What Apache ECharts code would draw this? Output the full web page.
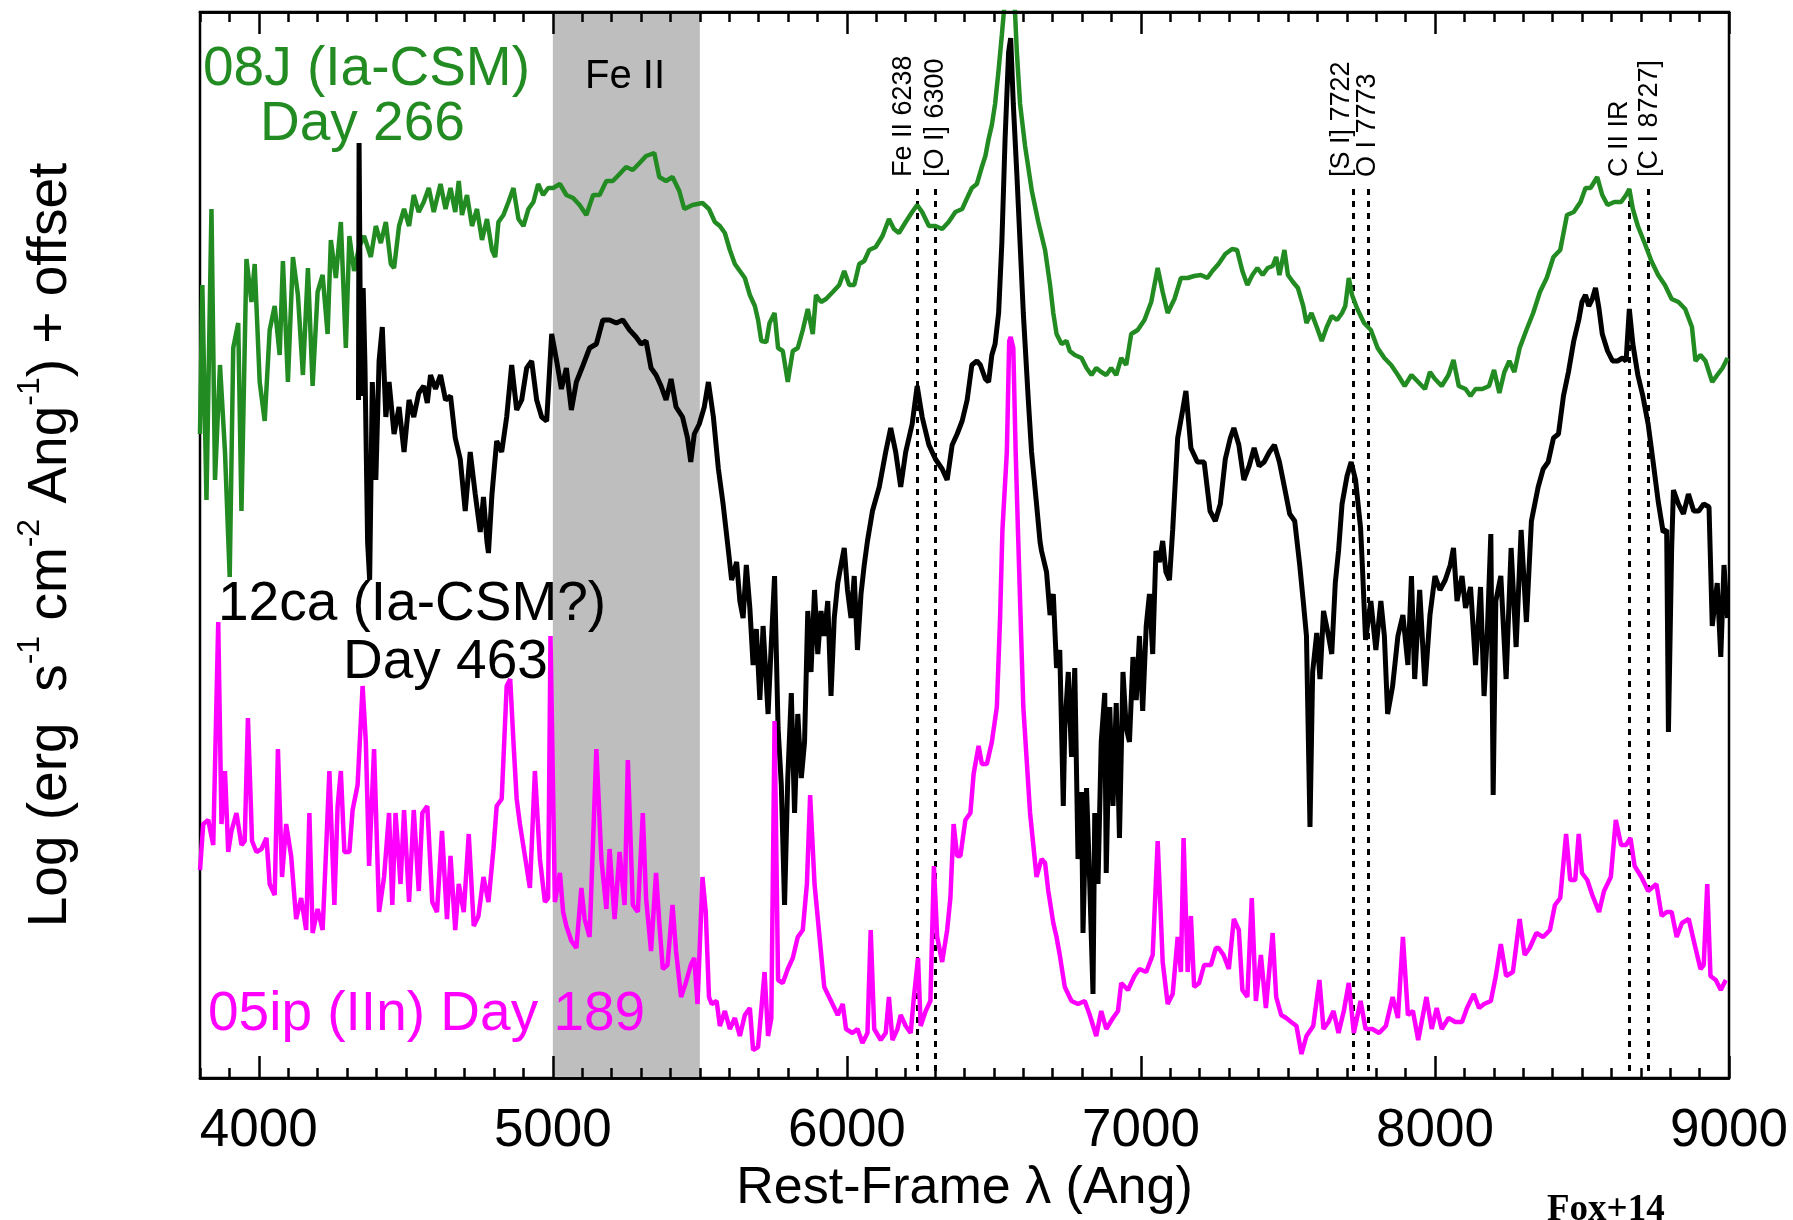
<!DOCTYPE html>
<html>
<head>
<meta charset="utf-8">
<title>Late-time spectra: 08J, 12ca, 05ip</title>
<script src="https://cdn.jsdelivr.net/npm/echarts@6/dist/echarts.min.js"></script>
<style>
  html, body { margin: 0; padding: 0; background: #fff; }
  #chart { width: 1793px; height: 1220px; }
</style>
</head>
<body>
<div id="chart"></div>
<script>
// Rest-frame wavelength (Angstrom) and log flux + offset (arbitrary units)
const sn2008J = [
  [3800,6.44],[3808,7.93],[3822,5.78],[3839,8.69],[3851,5.98],[3868,7.13],[3885,6.26],[3901,5.01],[3913,7.30],[3930,7.55],
  [3941,5.67],[3958,8.19],[3975,7.76],[3986,8.14],[4003,6.96],[4020,6.57],[4037,7.48],[4054,7.72],[4071,7.23],[4082,8.17],
  [4099,6.96],[4116,8.21],[4133,7.83],[4150,7.03],[4167,8.10],[4183,6.92],[4200,7.86],[4217,8.03],[4234,7.44],[4245,8.38],
  [4262,8.00],[4279,8.56],[4296,7.30],[4308,8.42],[4324,8.07],[4341,8.31],[4358,8.42],[4381,8.21],[4398,8.52],[4415,8.35],
  [4432,8.56],[4449,8.14],[4460,8.10],[4477,8.52],[4494,8.69],[4511,8.52],[4527,8.83],[4544,8.66],[4561,8.76],[4578,8.90],
  [4595,8.66],[4618,8.94],[4635,8.69],[4652,8.90],[4668,8.66],[4680,8.97],[4691,8.63],[4708,8.83],[4725,8.52],[4742,8.69],
  [4759,8.38],[4776,8.59],[4793,8.28],[4804,8.21],[4815,8.56],[4832,8.63],[4849,8.76],[4866,8.90],[4883,8.59],[4900,8.52],
  [4917,8.69],[4934,8.76],[4950,8.94],[4967,8.83],[4984,8.90],[5001,8.90],[5024,8.94],[5046,8.83],[5069,8.80],[5091,8.73],
  [5114,8.63],[5137,8.83],[5159,8.83],[5182,8.97],[5204,8.97],[5227,9.04],[5249,9.11],[5272,9.08],[5295,9.15],[5317,9.22],
  [5345,9.25],[5362,9.01],[5385,8.97],[5407,9.01],[5430,8.87],[5447,8.69],[5475,8.73],[5509,8.75],[5531,8.69],[5551,8.56],
  [5568,8.52],[5585,8.45],[5602,8.28],[5619,8.14],[5636,8.07],[5653,8.00],[5670,7.83],[5687,7.72],[5698,7.58],[5709,7.37],
  [5726,7.36],[5737,7.55],[5754,7.65],[5766,7.30],[5782,7.27],[5799,6.96],[5816,7.27],[5833,7.30],[5850,7.48],[5867,7.69],
  [5884,7.44],[5895,7.83],[5912,7.76],[5929,7.79],[5952,7.86],[5974,7.93],[5991,8.07],[6008,7.93],[6025,7.93],[6042,8.14],
  [6059,8.17],[6076,8.28],[6098,8.31],[6121,8.42],[6143,8.59],[6160,8.49],[6177,8.45],[6200,8.56],[6222,8.66],[6239,8.73],
  [6256,8.66],[6279,8.52],[6301,8.52],[6324,8.49],[6346,8.56],[6369,8.66],[6392,8.69],[6409,8.80],[6425,8.90],[6442,8.94],
  [6459,9.11],[6471,9.22],[6482,9.39],[6493,9.53],[6504,9.74],[6516,10.08],[6527,10.43],[6538,10.80],[6552,11.50],[6562,11.50],
  [6568,10.90],[6578,10.26],[6589,9.74],[6606,9.32],[6629,8.87],[6651,8.56],[6674,8.28],[6691,7.93],[6702,7.65],[6713,7.44],
  [6730,7.34],[6747,7.37],[6758,7.27],[6775,7.23],[6798,7.20],[6815,7.10],[6832,7.03],[6848,7.10],[6865,7.06],[6882,7.03],
  [6899,7.10],[6916,7.03],[6933,7.20],[6950,7.13],[6967,7.44],[6989,7.48],[7012,7.58],[7035,7.76],[7057,8.10],[7074,7.86],
  [7091,7.65],[7114,7.79],[7136,8.00],[7159,8.00],[7181,8.02],[7204,8.03],[7226,8.00],[7243,8.07],[7264,8.14],[7287,8.24],
  [7310,8.29],[7327,8.28],[7345,8.07],[7362,7.93],[7379,8.03],[7396,8.10],[7414,8.03],[7431,8.10],[7448,8.12],[7460,8.21],
  [7471,8.03],[7488,8.28],[7500,8.03],[7517,7.96],[7534,7.90],[7552,7.72],[7563,7.55],[7580,7.65],[7598,7.51],[7615,7.37],
  [7632,7.51],[7649,7.62],[7667,7.58],[7684,7.65],[7695,7.72],[7707,8.00],[7718,7.83],[7736,7.69],[7759,7.55],[7782,7.48],
  [7805,7.30],[7828,7.20],[7851,7.13],[7874,7.03],[7897,6.92],[7920,7.03],[7943,6.96],[7966,6.89],[7983,7.06],[8000,6.99],
  [8023,6.92],[8046,7.03],[8063,7.18],[8081,6.92],[8104,6.89],[8121,6.82],[8138,6.89],[8161,6.89],[8184,6.92],[8201,7.08],
  [8219,6.85],[8236,7.06],[8253,7.17],[8270,7.06],[8288,7.30],[8311,7.48],[8334,7.65],[8357,7.86],[8380,8.00],[8403,8.21],
  [8426,8.28],[8449,8.63],[8472,8.66],[8495,8.76],[8512,8.90],[8529,8.90],[8552,9.01],[8569,8.83],[8587,8.73],[8610,8.76],
  [8633,8.76],[8650,8.83],[8661,8.89],[8673,8.69],[8690,8.52],[8713,8.35],[8736,8.17],[8759,8.03],[8782,7.93],[8805,7.79],
  [8828,7.76],[8851,7.69],[8874,7.51],[8886,7.17],[8903,7.23],[8920,7.17],[8943,6.96],[8960,7.03],[8978,7.10],[8995,7.20]
];

const sn2012ca = [
  [4339,6.78],[4341,9.35],[4347,6.82],[4355,7.90],[4361,7.13],[4370,5.36],[4377,4.98],[4386,6.96],[4398,5.98],[4409,7.17],
  [4420,7.51],[4432,6.61],[4443,6.96],[4460,6.44],[4477,6.71],[4494,6.26],[4511,6.78],[4527,6.61],[4544,6.85],[4561,6.92],
  [4573,6.75],[4584,7.03],[4601,6.89],[4618,7.03],[4635,6.78],[4652,6.82],[4668,6.40],[4685,6.19],[4702,5.67],[4719,6.26],
  [4736,5.84],[4753,5.46],[4764,5.81],[4776,5.36],[4781,5.25],[4793,5.84],[4809,6.37],[4826,6.26],[4843,6.61],[4860,7.13],
  [4877,6.68],[4894,6.78],[4911,7.10],[4928,7.17],[4945,6.78],[4962,6.61],[4979,6.57],[4996,7.44],[5013,7.17],[5029,6.89],
  [5046,7.10],[5063,6.68],[5080,6.96],[5103,7.13],[5125,7.30],[5148,7.34],[5170,7.58],[5193,7.58],[5216,7.55],[5238,7.58],
  [5261,7.48],[5283,7.41],[5300,7.34],[5317,7.37],[5334,7.10],[5351,7.03],[5368,6.92],[5385,6.78],[5402,6.99],[5419,6.71],
  [5441,6.61],[5458,6.40],[5469,6.16],[5481,6.44],[5498,6.54],[5515,6.71],[5529,6.96],[5546,6.61],[5563,6.09],[5579,5.74],
  [5596,5.30],[5608,4.98],[5625,5.16],[5636,4.77],[5647,4.60],[5658,5.13],[5670,4.70],[5681,4.13],[5692,4.49],[5704,3.78],
  [5715,4.52],[5732,3.64],[5743,4.35],[5754,5.02],[5766,3.50],[5777,2.93],[5788,1.73],[5799,3.00],[5811,3.85],[5822,2.65],
  [5833,3.64],[5845,3.00],[5856,3.36],[5867,4.67],[5878,4.06],[5890,4.88],[5901,4.24],[5912,4.67],[5923,4.42],[5935,4.77],
  [5946,3.82],[5957,4.60],[5969,4.95],[5980,5.13],[5991,5.30],[6002,4.88],[6014,4.60],[6025,5.02],[6036,4.28],[6048,4.84],
  [6059,5.13],[6070,5.37],[6087,5.67],[6110,5.91],[6132,6.26],[6149,6.50],[6166,6.26],[6183,5.91],[6200,6.26],[6222,6.54],
  [6239,6.92],[6256,6.61],[6279,6.33],[6301,6.19],[6324,6.09],[6341,5.98],[6358,6.33],[6375,6.44],[6392,6.57],[6409,6.78],
  [6425,7.13],[6442,7.17],[6454,7.13],[6471,6.99],[6482,6.96],[6493,7.23],[6504,7.34],[6516,7.65],[6527,8.35],[6538,9.39],
  [6550,10.26],[6557,10.40],[6566,9.74],[6578,9.04],[6589,8.35],[6600,7.65],[6617,6.78],[6628,6.26],[6645,5.74],[6657,5.36],
  [6662,5.27],[6679,5.06],[6691,4.63],[6702,4.84],[6713,4.10],[6724,4.28],[6736,2.72],[6741,3.50],[6753,4.06],[6764,3.21],
  [6775,4.10],[6786,2.19],[6798,2.86],[6803,1.45],[6815,2.90],[6826,1.94],[6837,0.84],[6843,2.65],[6854,1.94],[6865,3.36],
  [6877,3.85],[6882,2.05],[6894,3.71],[6905,2.72],[6916,3.75],[6927,2.40],[6939,4.06],[6950,3.50],[6961,3.36],[6973,4.21],
  [6984,3.78],[6995,4.42],[7006,3.67],[7018,4.52],[7029,4.84],[7040,4.24],[7051,5.27],[7063,5.16],[7074,5.37],[7085,5.06],
  [7097,4.98],[7108,5.48],[7125,6.40],[7142,6.68],[7153,6.87],[7170,6.30],[7192,6.16],[7215,6.16],[7235,5.67],[7253,5.57],
  [7270,5.74],[7287,6.19],[7304,6.40],[7316,6.50],[7333,6.33],[7350,5.98],[7368,6.12],[7385,6.30],[7402,6.12],[7419,6.16],
  [7437,6.26],[7454,6.33],[7471,6.16],[7488,5.91],[7506,5.64],[7523,5.57],[7540,5.13],[7552,4.77],[7563,4.42],[7575,2.51],
  [7584,4.06],[7598,4.45],[7609,3.99],[7621,4.67],[7638,4.42],[7649,4.24],[7661,4.95],[7672,5.27],[7684,5.74],[7701,6.02],
  [7715,6.16],[7730,5.98],[7747,5.50],[7753,5.13],[7764,4.38],[7782,4.77],[7799,4.28],[7816,4.77],[7828,4.42],[7839,3.64],
  [7856,3.92],[7874,4.42],[7891,4.63],[7908,4.13],[7920,5.02],[7931,3.99],[7948,4.88],[7966,3.92],[7983,4.63],[8000,5.02],
  [8017,4.88],[8035,4.98],[8052,5.13],[8063,5.30],[8075,4.77],[8092,5.02],[8104,4.70],[8121,4.91],[8138,4.13],[8155,4.91],
  [8167,3.82],[8178,4.45],[8190,5.44],[8198,2.83],[8207,4.77],[8224,5.02],[8242,3.99],[8259,5.30],[8276,4.31],[8293,5.48],
  [8311,4.56],[8328,5.57],[8351,5.91],[8368,6.09],[8385,6.16],[8403,6.40],[8420,6.44],[8437,6.82],[8454,7.06],[8472,7.37],
  [8489,7.58],[8500,7.76],[8512,7.83],[8523,7.72],[8535,7.79],[8546,7.90],[8558,7.69],[8569,7.44],[8587,7.27],[8604,7.17],
  [8621,7.17],[8638,7.20],[8650,7.17],[8661,7.69],[8673,7.34],[8690,7.03],[8707,6.82],[8725,6.54],[8742,6.16],[8759,5.77],
  [8776,5.46],[8788,5.48],[8794,3.46],[8805,5.30],[8811,5.88],[8828,5.74],[8845,5.64],[8862,5.84],[8880,5.67],[8897,5.67],
  [8914,5.74],[8932,5.71],[8943,4.52],[8960,4.95],[8972,4.21],[8983,5.13],[8995,4.60]
];

const sn2005ip = [
  [3800,2.08],[3811,2.54],[3828,2.58],[3845,2.33],[3862,4.56],[3873,2.54],[3885,3.07],[3896,2.26],[3907,2.47],[3924,2.65],
  [3941,2.33],[3952,2.37],[3963,3.60],[3977,2.37],[3992,2.26],[4009,2.29],[4026,2.40],[4037,1.94],[4054,1.83],[4065,3.29],
  [4079,2.01],[4093,2.54],[4110,2.22],[4127,1.59],[4144,1.80],[4161,1.48],[4172,2.65],[4183,1.45],[4200,1.69],[4217,1.48],
  [4229,2.29],[4240,3.07],[4257,1.73],[4268,2.72],[4279,3.07],[4291,2.26],[4308,2.26],[4319,2.68],[4336,2.93],[4353,3.92],
  [4364,3.36],[4375,2.12],[4392,3.29],[4409,1.66],[4426,2.01],[4443,2.65],[4454,1.73],[4465,2.65],[4482,1.94],[4494,2.68],
  [4511,1.76],[4527,2.68],[4544,1.87],[4556,2.65],[4573,2.72],[4590,1.76],[4606,1.66],[4623,2.47],[4640,1.59],[4652,2.22],
  [4668,1.48],[4680,1.94],[4697,1.66],[4714,2.44],[4731,1.52],[4747,1.62],[4764,2.01],[4781,1.76],[4798,2.29],[4809,2.72],
  [4826,2.79],[4843,3.92],[4855,3.99],[4866,3.36],[4877,2.79],[4888,2.54],[4905,2.22],[4922,1.90],[4939,3.07],[4956,2.19],
  [4973,1.76],[4984,1.80],[4992,4.42],[5007,1.76],[5024,2.05],[5035,1.66],[5046,1.52],[5063,1.37],[5080,1.30],[5097,1.90],
  [5108,1.59],[5125,1.41],[5148,3.29],[5165,2.19],[5182,1.69],[5193,2.29],[5210,1.59],[5227,2.26],[5244,1.73],[5255,3.18],
  [5272,1.73],[5289,1.66],[5306,2.65],[5317,1.80],[5334,1.27],[5351,2.05],[5362,1.55],[5374,1.09],[5390,1.13],[5407,1.73],
  [5419,1.27],[5436,0.81],[5452,0.95],[5469,1.13],[5481,1.20],[5492,0.74],[5509,2.01],[5520,1.66],[5531,0.81],[5540,0.74],
  [5557,0.77],[5568,0.52],[5585,0.67],[5602,0.49],[5619,0.60],[5636,0.42],[5653,0.63],[5670,0.70],[5681,0.28],[5698,0.31],
  [5720,1.06],[5732,0.42],[5743,0.60],[5754,3.57],[5766,0.98],[5782,0.95],[5799,1.09],[5816,1.20],[5833,1.41],[5850,1.48],
  [5864,1.94],[5875,2.83],[5890,1.94],[5907,1.41],[5923,0.91],[5946,0.77],[5969,0.63],[5986,0.74],[5997,0.49],[6019,0.45],
  [6036,0.49],[6053,0.35],[6070,0.45],[6081,1.48],[6093,0.49],[6115,0.38],[6132,0.45],[6143,0.81],[6155,0.38],[6172,0.49],
  [6183,0.63],[6200,0.52],[6217,0.45],[6228,0.81],[6242,1.20],[6251,0.52],[6268,0.67],[6284,0.77],[6296,2.12],[6307,1.41],
  [6324,1.16],[6341,1.48],[6352,1.80],[6363,2.54],[6375,2.22],[6386,2.22],[6403,2.58],[6420,2.65],[6431,3.04],[6448,3.32],
  [6459,3.14],[6476,3.14],[6493,3.36],[6510,3.71],[6521,4.60],[6529,5.48],[6544,6.26],[6552,7.37],[6557,7.41],[6566,7.30],
  [6574,6.26],[6583,5.36],[6600,3.71],[6623,2.65],[6645,2.01],[6662,2.19],[6674,2.15],[6685,1.87],[6702,1.55],[6713,1.41],
  [6724,1.23],[6741,0.91],[6764,0.77],[6786,0.74],[6809,0.77],[6826,0.63],[6848,0.42],[6865,0.67],[6882,0.49],[6905,0.60],
  [6922,0.67],[6933,0.95],[6956,0.88],[6978,1.02],[6995,1.09],[7018,1.06],[7040,1.23],[7057,2.37],[7074,1.16],[7091,0.74],
  [7108,0.84],[7125,1.41],[7136,1.06],[7145,2.40],[7159,1.06],[7170,1.62],[7181,0.91],[7198,0.95],[7215,1.13],[7238,1.13],
  [7255,1.30],[7264,1.30],[7281,1.23],[7299,1.09],[7316,1.59],[7333,1.48],[7345,0.88],[7362,0.81],[7377,1.80],[7391,0.77],
  [7408,1.23],[7425,0.70],[7448,1.45],[7460,0.81],[7477,0.63],[7494,0.60],[7511,0.56],[7529,0.52],[7546,0.24],[7563,0.42],
  [7586,0.52],[7607,0.98],[7621,0.49],[7638,0.56],[7655,0.67],[7672,0.45],[7690,0.67],[7707,0.95],[7724,0.45],[7747,0.77],
  [7764,0.49],[7787,0.49],[7810,0.45],[7833,0.52],[7856,0.81],[7874,0.60],[7891,1.41],[7908,0.63],[7925,0.67],[7943,0.38],
  [7971,0.81],[7989,0.49],[8006,0.70],[8023,0.49],[8046,0.60],[8069,0.56],[8092,0.56],[8109,0.70],[8132,0.84],[8150,0.70],
  [8167,0.74],[8190,0.77],[8207,1.02],[8224,1.34],[8242,1.02],[8265,1.06],[8288,1.59],[8305,1.23],[8322,1.30],[8345,1.45],
  [8368,1.41],[8391,1.48],[8408,1.73],[8426,1.80],[8446,2.44],[8460,1.98],[8477,1.98],[8489,2.44],[8500,2.05],[8518,1.98],
  [8535,1.83],[8558,1.66],[8575,1.87],[8598,2.01],[8615,2.58],[8633,2.33],[8650,2.33],[8665,2.40],[8679,2.12],[8702,2.01],
  [8725,1.87],[8753,1.94],[8771,1.62],[8788,1.66],[8805,1.66],[8822,1.41],[8840,1.55],[8863,1.59],[8886,1.30],[8903,1.09],
  [8914,1.13],[8926,1.94],[8937,1.02],[8955,0.98],[8972,0.88],[8989,0.98]
];

// Axis range, ticks and labels
const waveRange = [3800, 9000];
const fluxRange = [0, 10.66];
const minorStep = 100;
const majorTicks = [4000, 5000, 6000, 7000, 8000, 9000];

// Fe II blend region
const feBand = [5000, 5500];
const feBandLabel = 'Fe II';

// Identified lines
const lineNames = ['Fe II 6238', '[O I] 6300', '[S I] 7722', 'O I 7773', 'C II IR', '[C I 8727]'];
const lineWaves = [6238, 6300, 7722, 7773, 8662, 8727];
const lineTop = 8.89;

const FONT = '"Liberation Sans", Arial, Helvetica, sans-serif';
const GREEN = '#228B22', BLACK = '#000000', MAGENTA = '#FF00FF';

const chart = echarts.init(document.getElementById('chart'), null, { renderer: 'canvas' });

const gridRect = { left: 200, right: 64, top: 12, bottom: 142 };

// Frame axes: minor ticks every 100 A, longer major ticks at the labelled values;
// drawn above the shaded band so the ticks stay visible over it
function xAxisDef(position, custom, len, labels) {
  const ax = {
    type: 'value', position: position, z: 10,
    min: waveRange[0], max: waveRange[1], interval: minorStep,
    axisLine: { show: true, onZero: false, lineStyle: { color: '#000', width: 2.5 } },
    splitLine: { show: false },
    axisTick: { show: true, inside: true, length: len, lineStyle: { color: '#000', width: 2.5 } },
    axisLabel: { show: false }
  };
  if (custom) ax.axisTick.customValues = majorTicks;
  if (labels) {
    ax.axisLabel = {
      show: true, customValues: majorTicks, margin: 27,
      fontSize: 53, fontFamily: FONT, color: '#000',
      formatter: v => String(v)
    };
    ax.name = 'Rest-Frame \u03BB (Ang)';
    ax.nameLocation = 'middle';
    ax.nameGap = 84;
    ax.nameTextStyle = { fontSize: 52, fontFamily: FONT, color: '#000' };
  }
  return ax;
}

const option = {
  animation: false,
  backgroundColor: '#fff',
  grid: Object.assign({ show: true, borderColor: '#000', borderWidth: 2.5, backgroundColor: 'transparent' }, gridRect),
  xAxis: [
    xAxisDef('bottom', false, 10, true),
    xAxisDef('bottom', true, 22, false),
    xAxisDef('top', false, 10, false),
    xAxisDef('top', true, 22, false)
  ],
  yAxis: {
    type: 'value', min: fluxRange[0], max: fluxRange[1],
    axisLine: { show: false }, axisTick: { show: false },
    axisLabel: { show: false }, splitLine: { show: false },
    name: '{n|Log (erg  s}{sup|-1}{n| cm}{sup|-2}{n| Ang}{sup|-1}{n|) + offset}',
    nameLocation: 'middle', nameRotate: 90, nameGap: 122,
    nameTextStyle: {
      fontFamily: FONT, color: '#000', fontSize: 55,
      rich: {
        n: { fontFamily: FONT, fontSize: 55, lineHeight: 64, verticalAlign: 'bottom', color: '#000' },
        sup: { fontFamily: FONT, fontSize: 32, lineHeight: 32, verticalAlign: 'top', color: '#000' }
      }
    }
  },
  series: [
    {
      name: '08J (Ia-CSM) Day 266', type: 'line', data: sn2008J,
      showSymbol: false, symbol: 'none', z: 3,
      lineStyle: { color: GREEN, width: 4.5 },
      markArea: {
        silent: true, z: 1,
        itemStyle: { color: '#bebebe' },
        label: { show: false },
        data: [[{ xAxis: feBand[0] }, { xAxis: feBand[1] }]]
      },
      markLine: {
        silent: true, z: 2, symbol: ['none', 'none'],
        label: { show: false },
        lineStyle: { color: '#000', width: 3, type: [6, 6] },
        data: lineWaves.map(w => [{ coord: [w, lineTop] }, { coord: [w, fluxRange[0]] }])
      }
    },
    {
      name: '12ca (Ia-CSM?) Day 463', type: 'line', data: sn2012ca,
      showSymbol: false, symbol: 'none', z: 4,
      lineStyle: { color: BLACK, width: 5 }
    },
    {
      name: '05ip (IIn) Day 189', type: 'line', data: sn2005ip,
      showSymbol: false, symbol: 'none', z: 5,
      lineStyle: { color: MAGENTA, width: 4.5 }
    }
  ]
};

chart.setOption(option);

// Annotations: spectrum names, band name, line identifications, credit
const toPx = (w, f) => chart.convertToPixel({ xAxisIndex: 0, yAxisIndex: 0 }, [w, f]);
const labelOffsets = [-13, 0, -12, -1, -10, 1];
const labelGap = 12;

const textEl = (x, y, text, size, color, extra) => ({
  type: 'text', x: x, y: y, z: 100,
  style: Object.assign({ text: text, fontSize: size, fontFamily: FONT, fill: color, align: 'left', verticalAlign: 'middle' }, extra || {})
});

const graphics = [
  textEl(203, 70, '08J (Ia-CSM)', 55, GREEN),
  textEl(260, 125, 'Day 266', 55, GREEN),
  textEl(218, 605, '12ca (Ia-CSM?)', 55, BLACK),
  textEl(343, 663, 'Day 463', 55, BLACK),
  textEl(208, 1015, '05ip (IIn) Day 189', 55, MAGENTA),
  textEl(585, 77, feBandLabel, 40, '#000'),
  textEl(1547, 1192, 'Fox+14', 37, '#000', {
    fontWeight: 'bold', fontFamily: '"Liberation Serif", "Times New Roman", serif', verticalAlign: 'top'
  })
];

lineNames.forEach((name, i) => {
  const p = toPx(lineWaves[i], lineTop);
  const el = textEl(p[0] + labelOffsets[i], p[1] - labelGap, name, 27, '#000');
  el.rotation = Math.PI / 2;
  graphics.push(el);
});

chart.setOption({ graphic: graphics });
</script>
</body>
</html>
